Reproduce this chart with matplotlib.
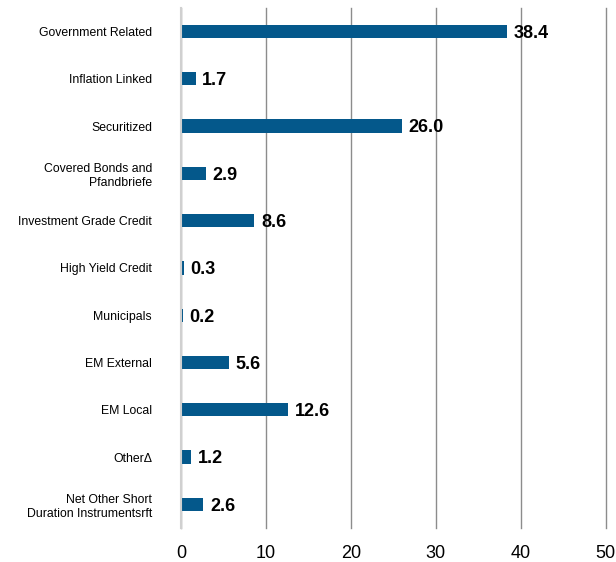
import matplotlib
matplotlib.use("Agg")
import matplotlib.pyplot as plt

# 各板块配置（%），自上而下
categories = [
    "Government Related",
    "Inflation Linked",
    "Securitized",
    "Covered Bonds and\nPfandbriefe",
    "Investment Grade Credit",
    "High Yield Credit",
    "Municipals",
    "EM External",
    "EM Local",
    "Other\u0394",
    "Net Other Short\nDuration Instrumentsrft",
]
values = [38.4, 1.7, 26.0, 2.9, 8.6, 0.3, 0.2, 5.6, 12.6, 1.2, 2.6]
xticks = [0, 10, 20, 30, 40, 50]

plt.rcParams["font.family"] = ["Liberation Sans", "DejaVu Sans"]

fig = plt.figure(figsize=(6.16, 5.62), dpi=100)
ax = fig.add_axes([0.294, 0.0605, 0.689, 0.9255])

ypos = list(range(len(categories)))
ax.barh(ypos, values, height=0.28, color="#04588b", zorder=3)

for y, v in zip(ypos, values):
    ax.text(v + 0.8, y + 0.04, f"{v:.1f}", va="center", ha="left",
            fontsize=13, fontweight="bold", zorder=4)

ax.set_ylim(len(categories) - 0.5, -0.5)
ax.set_xlim(0, 50)
ax.set_yticks(ypos)
ax.set_yticklabels(categories, fontsize=8.8)
ax.set_xticks(xticks)
ax.set_xticklabels([str(t) for t in xticks], fontsize=13)

ax.grid(axis="x", color="#8c8c8c", linewidth=1, zorder=0)
for gl in ax.get_xgridlines():
    gl.set_clip_on(False)
for s in ["top", "right", "bottom"]:
    ax.spines[s].set_visible(False)
ax.spines["left"].set_color("#d0d0d0")
ax.spines["left"].set_linewidth(1.5)
ax.spines["left"].set_zorder(5)
ax.tick_params(axis="both", length=0)
ax.tick_params(axis="y", pad=21)
ax.tick_params(axis="x", pad=12)

fig.savefig("out.png", dpi=100)
